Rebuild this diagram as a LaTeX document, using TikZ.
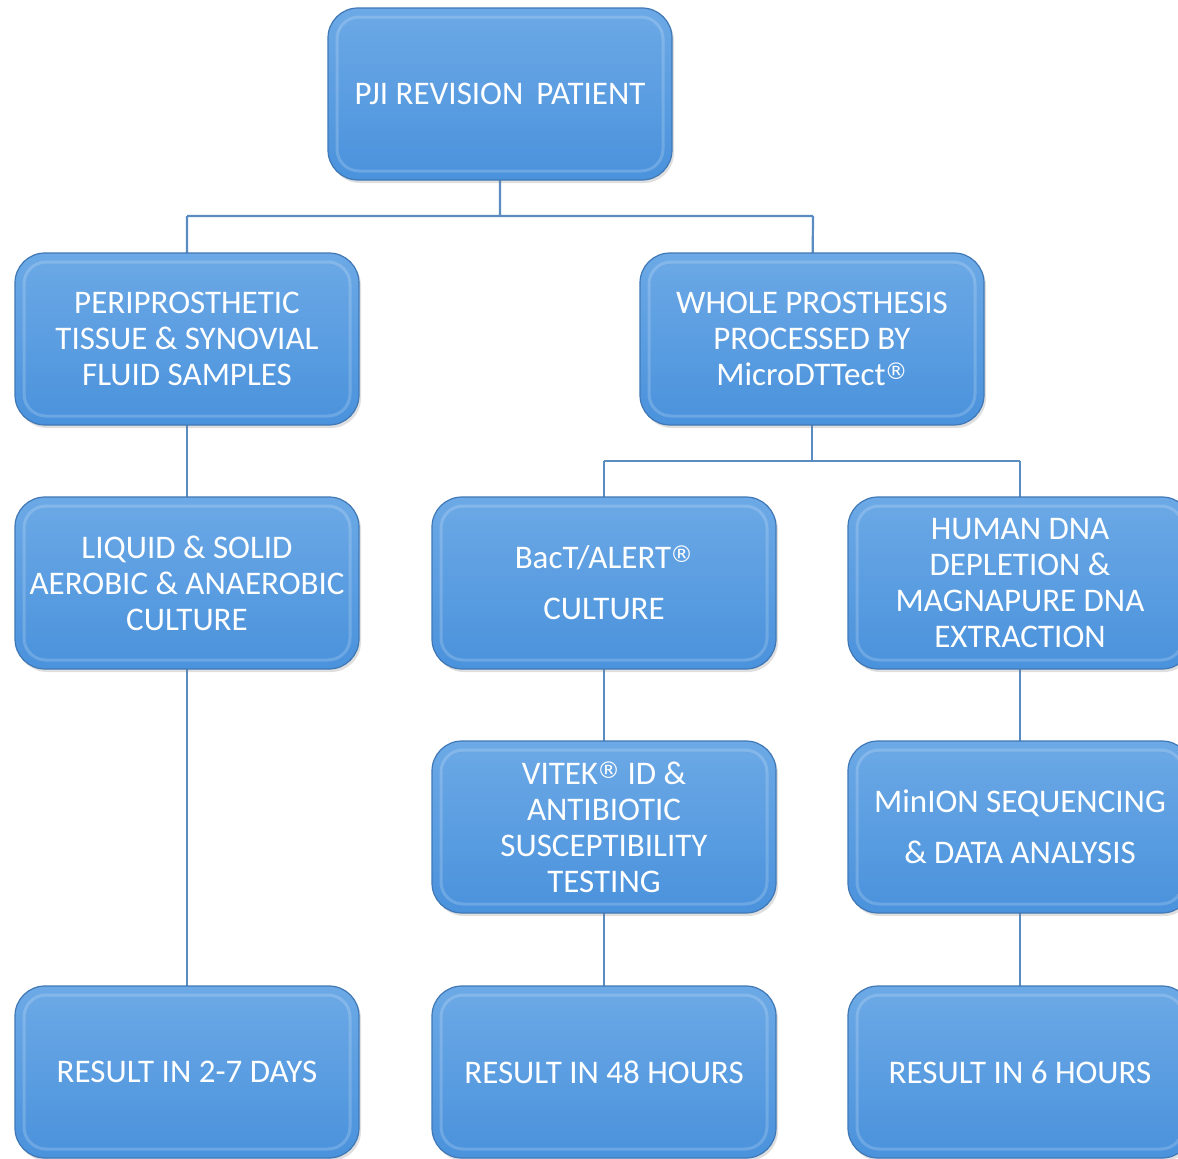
\documentclass[tikz,border=0pt]{standalone}
\usepackage{fontspec}
\setmainfont{Carlito}
\newfontfamily\symf{DejaVu Sans}
\usetikzlibrary{shadows}
\definecolor{boxtop}{HTML}{6CA9E6}
\definecolor{boxbot}{HTML}{4A92DC}
\definecolor{boxedge}{HTML}{3F78B5}
\definecolor{linkcol}{HTML}{5A8CC2}
\newcommand{\reg}{\kern-1pt\raisebox{6pt}{\symf\fontsize{23}{23}\selectfont ®}}
\tikzset{
  box/.style={rounded corners=30pt, minimum width=344pt, minimum height=172pt,
    top color=boxtop, bottom color=boxbot, draw=boxedge, line width=1.2pt,
    align=center, text=white, inner sep=0pt,
    font=\fontsize{33}{36}\selectfont,
    drop shadow={opacity=.25, shadow xshift=2pt, shadow yshift=-3pt},
    path picture={\draw[white, opacity=.18, line width=3pt, rounded corners=22pt]
      ([shift={(9pt,-9pt)}]path picture bounding box.north west) rectangle
      ([shift={(-9pt,9pt)}]path picture bounding box.south east);}},
  link/.style={draw=linkcol, line width=2.2pt}
}
\begin{document}
\begin{tikzpicture}[x=1pt,y=-1pt]
\useasboundingbox (0,0) rectangle (1178,1159);
\clip (0,0) rectangle (1178,1159);
\fill[white] (0,0) rectangle (1178,1159);
% connectors
\coordinate (j1) at (500,216);
\coordinate (j1l) at (187,216);
\coordinate (j1r) at (813,216);
\coordinate (j2) at (812,461);
\coordinate (j2l) at (604,461);
\coordinate (j2r) at (1020,461);
\path (500,94) coordinate (pTop) (187,339) coordinate (pL2) (812,339) coordinate (pR2)
  (187,583) coordinate (pL3) (604,583) coordinate (pM3) (1020,583) coordinate (pR3)
  (604,827) coordinate (pM4) (1020,827) coordinate (pR4)
  (187,1072) coordinate (pL5) (604,1072) coordinate (pM5) (1020,1072) coordinate (pR5);
\draw[link] (pTop) -- (j1) (j1l) -- (j1r) (j1l) -- (pL2) (j1r) -- (pR2);
\draw[link] (pL2) -- (pL3) -- (pL5);
\draw[link] (pR2) -- (j2) (j2l) -- (j2r) (j2l) -- (pM3) (j2r) -- (pR3);
\draw[link] (pM3) -- (pM4) -- (pM5);
\draw[link] (pR3) -- (pR4) -- (pR5);
% boxes
\node[box] (top) at (pTop) {PJI REVISION\, PATIENT};
\node[box] (tissue) at (pL2) {PERIPROSTHETIC\\TISSUE \& SYNOVIAL\\FLUID SAMPLES};
\node[box] (whole) at (pR2) {WHOLE PROSTHESIS\\PROCESSED BY\\MicroDTTect\reg};
\node[box] (liquid) at (pL3) {LIQUID \& SOLID\\AEROBIC \& ANAEROBIC\\CULTURE};
\node[box] (bact) at (pM3) {BacT/ALERT\reg\\[15pt]CULTURE};
\node[box] (human) at (pR3) {HUMAN DNA\\DEPLETION \&\\MAGNAPURE DNA\\EXTRACTION};
\node[box] (vitek) at (pM4) {VITEK\reg{} ID \&\\ANTIBIOTIC\\SUSCEPTIBILITY\\TESTING};
\node[box] (minion) at (pR4) {MinION SEQUENCING\\[15pt]\& DATA ANALYSIS};
\node[box] (r1) at (pL5) {RESULT IN 2-7 DAYS};
\node[box] (r2) at (pM5) {RESULT IN 48 HOURS};
\node[box] (r3) at (pR5) {RESULT IN 6 HOURS};
\end{tikzpicture}
\end{document}
